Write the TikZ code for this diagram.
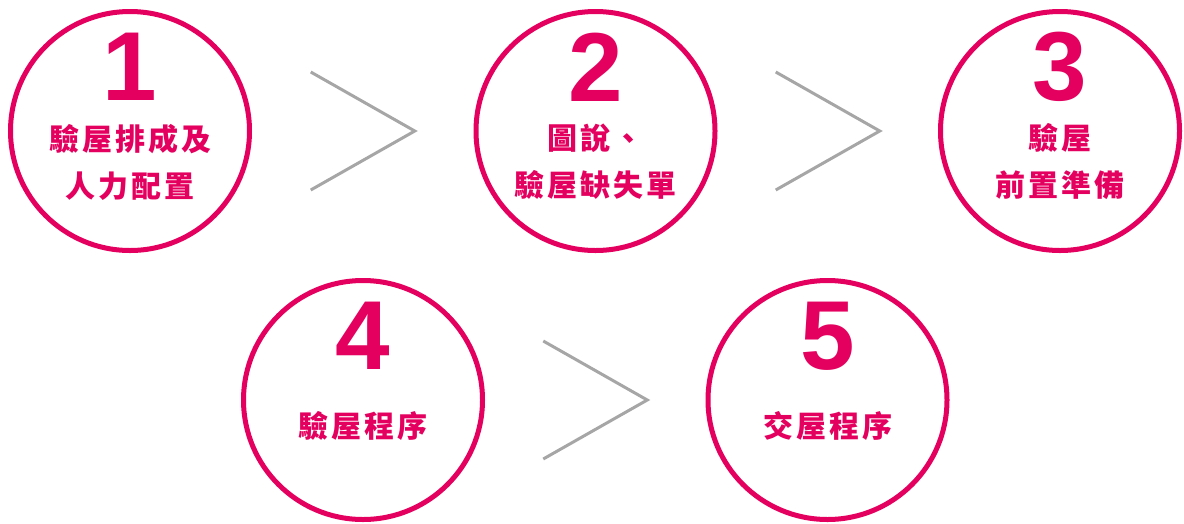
\documentclass[tikz,border=0pt]{standalone}
\usepackage{fontspec}
\newfontfamily\cjk{Noto Sans CJK TC}
\newfontfamily\numfont{Liberation Sans}
\usepackage{xcolor}
\usetikzlibrary{positioning, calc}

\definecolor{rose}{RGB}{228,0,94}
\definecolor{chevgray}{RGB}{166,166,166}

\begin{document}
\begin{tikzpicture}[
    x=1pt, y=-1pt,
    stepcircle/.style={circle, draw=rose, line width=5pt, minimum size=239pt, inner sep=0pt},
    stepnum/.style={text=rose, inner sep=0pt, font=\numfont\bfseries\fontsize{98}{98}\selectfont},
    steptext/.style={text=rose, inner sep=0pt, align=center, font=\cjk\bfseries\fontsize{30}{47}\selectfont\addfontfeatures{LetterSpace=10}},
    chevron/.style={draw=chevgray, line width=3pt},
]
\useasboundingbox (0,0) rectangle (1184,523);

% Circles
\node (c1) [stepcircle] at (130,131) {};
\node (c2) [stepcircle] at (595.5,131) {};
\node (c3) [stepcircle] at (1060,131) {};
\node (c4) [stepcircle] at (363,400) {};
\node (c5) [stepcircle] at (827.5,400) {};

% Numbers
\node (n1) [stepnum] at ($(c1)+(0,-64)$) {1};
\node (n2) [stepnum] at ($(c2)+(0,-64)$) {2};
\node (n3) [stepnum] at ($(c3)+(0,-64)$) {3};
\node (n4) [stepnum] at ($(c4)+(0,-64)$) {4};
\node (n5) [stepnum] at ($(c5)+(0,-64)$) {5};

% Labels
\node (t1) [steptext] at ($(c1)+(0,31)$) {驗屋排成及\\人力配置};
\node (t2) [steptext] at ($(c2)+(0,31)$) {圖說、\\驗屋缺失單};
\node (t3) [steptext] at ($(c3)+(0,31)$) {驗屋\\前置準備};
\node (t4) [steptext] at ($(c4)+(0,26)$) {驗屋程序};
\node (t5) [steptext] at ($(c5)+(0,26)$) {交屋程序};

% Chevrons
\foreach \a/\b in {c1/c2, c2/c3, c4/c5} {
    \coordinate (m\a\b) at ($(\a)!0.5!(\b)$);
    \draw [chevron] ($(m\a\b)+(-52,-59)$) -- ($(m\a\b)+(52,0)$) -- ($(m\a\b)+(-52,59)$);
}

\end{tikzpicture}
\end{document}
